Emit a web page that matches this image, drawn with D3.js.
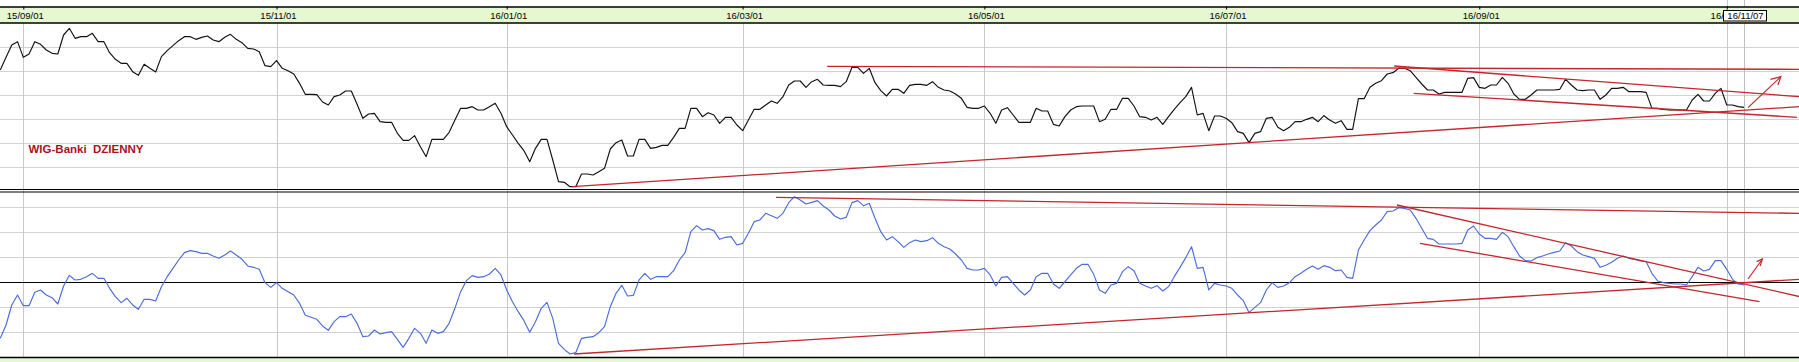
<!DOCTYPE html>
<html><head><meta charset="utf-8">
<script src="https://cdn.jsdelivr.net/npm/d3@7"></script>
<style>
body{margin:0;background:#fff;}
svg{display:block;font-family:"Liberation Sans",Arial,sans-serif;}
</style>
</head><body>
<svg id="c" width="1799" height="362"></svg>
<script>
// ---- data (trading-day index based) ----
const tickIdx = [4,48,88,129,171,213,257,300];
const tickLabels = ["15/09/01","15/11/01","16/01/01","16/03/01","16/05/01","16/07/01","16/09/01","16/11/01"];
const cursorIdx = 303;
const cursorLabel = "16/11/07";
const title = "WIG-Banki\u00a0 DZIENNY";

const price = [
7295,7485,7670,7720,7485,7535,7720,7680,7595,7545,
7535,7820,7920,7770,7795,7795,7845,7720,7720,7555,
7455,7395,7395,7270,7215,7380,7320,7265,7495,7585,
7660,7735,7795,7795,7755,7785,7805,7745,7720,7785,
7830,7755,7705,7620,7610,7570,7360,7345,7435,7320,
7285,7235,7095,6930,6930,6925,6815,6770,6895,6920,
6980,6980,6780,6570,6635,6645,6520,6510,6510,6345,
6240,6240,6310,6145,5995,6255,6255,6255,6360,6545,
6720,6720,6745,6695,6695,6745,6795,6645,6445,6320,
6195,6085,5920,6120,6255,6255,5945,5620,5610,5545,
5545,5735,5735,5720,
5770,5820,6110,6205,6245,6005,
6005,6255,6255,6120,6135,6165,6165,6285,6420,6420,
6720,6720,6595,6655,6620,6495,6585,6585,6470,6385,
6545,6705,6705,6770,6830,6795,6895,7070,7130,7130,
7035,7120,7155,7070,7065,7065,7045,7120,7335,7335,
7245,7320,7105,6985,6905,7005,7005,6945,7065,7080,
7080,7065,7120,7035,6995,6980,6935,6870,6735,6720,
6720,6755,6645,6495,6695,6730,6620,6510,6510,6510,
6720,6680,6680,6480,6455,6595,6695,6745,6755,6755,
6755,6520,6555,6705,6705,6870,6870,6755,6595,6585,
6545,6585,6480,6595,6705,6805,6895,7035,6620,
6645,6385,6605,6605,6570,6505,6370,6345,6205,6345,
6370,6570,6585,6435,6385,6435,6520,6520,6555,6585,
6520,6610,6545,6495,6535,6405,6405,6865,6865,7035,
7095,7135,7235,7255,7320,7320,7285,7185,7085,6995,
6995,6935,6960,6960,6960,6960,7170,7180,7035,7020,
7070,7070,7185,7095,6935,6855,6855,6920,6995,6995,
6995,6995,7005,7155,7070,6995,6985,6995,6995,6855,
6920,7020,7020,7035,6970,6970,6970,6960,6720,6720,
6705,6695,6695,6695,6695,6845,6930,6830,6830,6945,
7020,6770,6770,6745,6735
];

const osc = [
-168,-128,-68,-38,-70,-70,-30,-23,-38,-46,
-65,-11,21,7,9,17,27,12,12,-18,
-43,-61,-48,-68,-81,-51,-51,-56,-13,17,
42,67,89,95,92,87,87,79,72,82,
94,82,69,49,45,39,-1,-15,-1,-18,
-28,-38,-63,-99,-105,-111,-131,-144,-118,-103,
-103,-95,-123,-163,-161,-143,-155,-151,-148,-171,
-195,-168,-138,-153,-183,-143,-153,-148,-123,-78,
-28,5,20,15,17,25,42,22,-23,-58,
-88,-115,-150,-118,-78,-60,-108,-183,-201,-215,
-211,-168,-165,-163,-151,
-133,-73,-33,-9,-41,-39,7,27,9,17,
17,17,35,67,89,152,170,157,161,155,
129,135,137,112,117,147,182,187,207,200,
192,207,239,257,247,235,240,245,229,217,
199,190,195,239,245,230,237,192,152,127,
137,122,105,119,127,122,125,134,117,107,
100,85,67,42,37,37,42,22,-11,15,
17,-3,-23,-38,-23,17,27,27,-5,-18,
2,22,42,54,54,24,-23,-33,-8,-3,
32,47,35,-3,-11,-18,-10,-26,-13,17,
45,74,107,42,
45,-23,-3,-8,-11,-18,-38,-55,-91,-75,
-61,-23,-1,-15,-11,-1,17,27,39,49,
39,50,45,35,37,15,12,97,127,155,
172,187,212,214,224,222,217,192,162,132,
129,115,115,115,115,117,157,169,145,132,
132,129,150,137,107,79,65,64,74,79,
85,90,94,119,109,92,82,77,72,45,
51,60,72,79,72,69,64,62,27,4,
-1,-3,-5,-5,-8,17,45,34,39,65,
65,39,9,-5,-8
];

const priceGrid = [7640,7280,6920,6560,6200,5840];
const oscGrid = [225,150,75,-75,-150];
const oscZero = 0;

// hand-drawn trend lines: [index, value] pairs
const priceTrends = [
  [[143.7,7350],[312.6,7305]],
  [[99.4,5545],[312.6,6745]],
  [[242.2,7355],[312.6,6895]],
  [[245.6,6945],[312.2,6585]]
];
const priceArrow = [[303.7,6730],[309.4,7195]];
const priceArrowHead = [[307.6,7155],[309.4,7195],[308.9,7070]];
const oscTrends = [
  [[134.8,255],[312.6,207]],
  [[99.7,-215],[312.6,9]],
  [[242.7,232],[312.7,-43]],
  [[246.7,117],[305.7,-58]]
];
const oscArrow = [[303.7,10],[306.2,70]];
const oscArrowHead = [[305.2,62],[306.2,70],[305.8,49]];

// ---- drawing ----
const W = 1799, H = 362;
const x = d3.scaleLinear().domain([4,303]).range([23.3,1744]);
const yP = d3.scaleLinear().domain([5480,8000]).range([191,23]);
const yO = d3.scaleLinear().domain([-225,225]).range([357.33,207.33]);
const svg = d3.select('#c');
const crisp = v => Math.round(v) + 0.5;
const cx = x(cursorIdx);
const boxX = Math.round(cx-21.5)+0.5;
const lastTick = tickIdx[tickIdx.length-1];

const defs = svg.append('defs');
defs.append('clipPath').attr('id','cp1').append('rect').attr('x',0).attr('y',23).attr('width',W).attr('height',166);
defs.append('clipPath').attr('id','cp2').append('rect').attr('x',0).attr('y',192).attr('width',W).attr('height',165);
// clip for the last tick label, in that tick's local coordinates
defs.append('clipPath').attr('id','cpLab')
  .append('rect').attr('x',-40).attr('y',-10).attr('width',40 + (boxX - 0.5 - x(lastTick))).attr('height',40);

svg.append('rect').attr('width',W).attr('height',H).attr('fill','#fff');

const gridCol = '#d2d2d2';
svg.append('g').selectAll('line').data(priceGrid).join('line')
  .attr('x1',0).attr('x2',W).attr('y1',d=>crisp(yP(d))).attr('y2',d=>crisp(yP(d)))
  .attr('stroke',gridCol).attr('stroke-width',1);
svg.append('g').selectAll('line').data(oscGrid).join('line')
  .attr('x1',0).attr('x2',W).attr('y1',d=>crisp(yO(d))).attr('y2',d=>crisp(yO(d)))
  .attr('stroke',gridCol).attr('stroke-width',1);

svg.append('g').selectAll('line').data(tickIdx).join('line')
  .attr('x1',d=>crisp(x(d))).attr('x2',d=>crisp(x(d)))
  .attr('y1',d=> d===lastTick ? 0 : 23).attr('y2',357)
  .attr('stroke','#c8c8c8').attr('stroke-width',1);
svg.append('line').attr('x1',crisp(cx)).attr('x2',crisp(cx))
  .attr('y1',0).attr('y2',357).attr('stroke','#c0c0c0').attr('stroke-width',1);

svg.append('line').attr('x1',0).attr('x2',W).attr('y1',crisp(yO(oscZero))).attr('y2',crisp(yO(oscZero)))
  .attr('stroke','#000').attr('stroke-width',1.1);

const lineP = d3.line().x((d,i)=>x(i)).y(d=>yP(d));
const lineO = d3.line().x((d,i)=>x(i)).y(d=>yO(d));
svg.append('path').attr('clip-path','url(#cp1)').datum(price).attr('d',lineP)
  .attr('fill','none').attr('stroke','#111').attr('stroke-width',1.15).attr('stroke-linejoin','round');
svg.append('path').attr('clip-path','url(#cp2)').datum(osc).attr('d',lineO)
  .attr('fill','none').attr('stroke','#4a6ddb').attr('stroke-width',1.15).attr('stroke-linejoin','round');

const red = '#c3262c';
const tl = (y) => d3.line().x(d=>x(d[0])).y(d=>y(d[1]));
const g1 = svg.append('g').attr('clip-path','url(#cp1)');
g1.selectAll('path.t').data(priceTrends).join('path').attr('class','t').attr('d',tl(yP))
  .attr('fill','none').attr('stroke',red).attr('stroke-width',1.3);
g1.append('path').datum(priceArrow).attr('d',tl(yP)).attr('fill','none').attr('stroke',red).attr('stroke-width',1.2);
g1.append('path').datum(priceArrowHead).attr('d',tl(yP)).attr('fill','none').attr('stroke',red).attr('stroke-width',1.2);
const g2 = svg.append('g').attr('clip-path','url(#cp2)');
g2.selectAll('path.t').data(oscTrends).join('path').attr('class','t').attr('d',tl(yO))
  .attr('fill','none').attr('stroke',red).attr('stroke-width',1.3);
g2.append('path').datum(oscArrow).attr('d',tl(yO)).attr('fill','none').attr('stroke',red).attr('stroke-width',1.2);
g2.append('path').datum(oscArrowHead).attr('d',tl(yO)).attr('fill','none').attr('stroke',red).attr('stroke-width',1.2);

svg.append('text').attr('x',28.5).attr('y',152.5).text(title)
  .attr('font-size','11.5px').attr('font-weight','bold').attr('fill','#a8121c');

svg.append('line').attr('x1',0).attr('x2',W).attr('y1',189.5).attr('y2',189.5).attr('stroke','#000').attr('stroke-width',1.2);
svg.append('line').attr('x1',0).attr('x2',W).attr('y1',192).attr('y2',192).attr('stroke','#000').attr('stroke-width',1.2);
svg.append('rect').attr('x',0).attr('y',357.5).attr('width',W).attr('height',5).attr('fill','#e6f8d2');
svg.append('line').attr('x1',0).attr('x2',W).attr('y1',357.5).attr('y2',357.5).attr('stroke','#000').attr('stroke-width',1.3);

svg.append('rect').attr('x',0).attr('y',7).attr('width',W).attr('height',16).attr('fill','#e6f8d2');
svg.append('line').attr('x1',0).attr('x2',W).attr('y1',7).attr('y2',7).attr('stroke','#000').attr('stroke-width',1.3);
svg.append('line').attr('x1',0).attr('x2',W).attr('y1',23).attr('y2',23).attr('stroke','#000').attr('stroke-width',1.3);

const axis = d3.axisBottom(x).tickValues(tickIdx).tickFormat((d,i)=>tickLabels[i]).tickSize(3).tickPadding(2.3);
const ga = svg.append('g').attr('transform','translate(0,6.5)').call(axis);
ga.select('.domain').remove();
ga.selectAll('.tick line').attr('stroke','#000');
ga.selectAll('.tick text').attr('font-size','9.5px').attr('fill','#000').attr('dx',1.5)
  .attr('font-family','"Liberation Sans",Arial,sans-serif');
// the last label is partly hidden behind the cursor box, as in the original
ga.selectAll('.tick').filter(d=>d===lastTick).select('text').attr('clip-path','url(#cpLab)');

svg.append('rect').attr('x',boxX).attr('y',10.5).attr('width',43).attr('height',10.5)
  .attr('fill','#fff').attr('stroke','#000').attr('stroke-width',1);
svg.append('text').attr('x',cx+1.5).attr('y',19.3).attr('text-anchor','middle')
  .attr('font-size','9.5px').attr('fill','#000').text(cursorLabel);
</script>
</body></html>
